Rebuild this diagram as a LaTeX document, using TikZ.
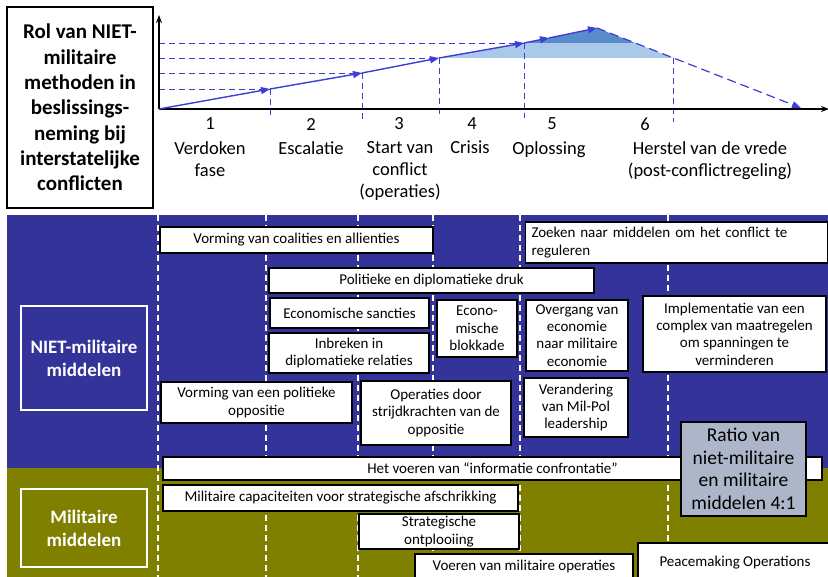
\documentclass[tikz,border=0pt]{standalone}
\usepackage{fontspec}
\setmainfont{Carlito}
\usetikzlibrary{arrows.meta}
\definecolor{panelblue}{RGB}{51,51,153}
\definecolor{panelolive}{RGB}{128,128,0}
\definecolor{lineblue}{RGB}{62,62,215}
\definecolor{shadelight}{RGB}{170,200,232}
\definecolor{shadedark}{RGB}{88,140,205}
\definecolor{ratiofill}{RGB}{172,182,200}
\tikzset{
  wbox/.style={draw=black, line width=1.2pt, fill=white, align=center, inner sep=0pt,
    font=\fontsize{15}{17.3}\selectfont},
  lbl/.style={font=\fontsize{18.5}{22}\selectfont, align=center, inner sep=0pt},
  sidebox/.style={draw=white, line width=1.2pt, align=center, text=white, inner sep=0pt,
    font=\fontsize{19}{23}\selectfont\bfseries},
  axisline/.style={line width=1.6pt, -{Stealth[length=8pt,width=6pt]}},
  bluearrow/.style={lineblue, line width=1.4pt, -{Triangle[length=9pt,width=7pt]}},
  bluedash/.style={lineblue, line width=0.9pt, dash pattern=on 6pt off 4pt},
  whitedash/.style={white, line width=1.3pt, dash pattern=on 6pt off 4pt},
}
\begin{document}
\begin{tikzpicture}[x=1pt,y=-1pt]
\useasboundingbox (0,0) rectangle (828,577);
\clip (0,0) rectangle (828,577);
\fill[white] (0,0) rectangle (828,577);

% ---------- top chart ----------
\coordinate (o) at (159,109);
\coordinate (ytop) at (159,15);
\coordinate (xend) at (829,109);
\coordinate (p1) at (270,89);
\coordinate (p2) at (362,73);
\coordinate (p3) at (439,58);
\coordinate (p4) at (524,43);
\coordinate (p5) at (549,38);
\coordinate (p6) at (597,28);
\coordinate (q1) at (635,43);
\coordinate (q2) at (673,58);
\coordinate (pend) at (801,108);

\fill[shadelight] (p3) -- (p4) -- (q1) -- (q2) -- cycle;
\fill[shadedark] (p4) -- (p6) -- (q1) -- cycle;

% horizontal dashed guides
\coordinate (h1) at (159,89);
\coordinate (h2) at (159,73);
\coordinate (h3) at (159,58);
\coordinate (h4) at (159,43);
\draw[bluedash] (h1) -- (p1);
\draw[bluedash] (h2) -- (p2);
\draw[bluedash] (h3) -- (p3);
\draw[bluedash] (h4) -- (p4);
% vertical dashed guides
\coordinate (v1) at (270,118);
\coordinate (v2) at (362,119);
\coordinate (v3) at (439,118);
\coordinate (v4) at (524,118);
\coordinate (v5) at (673,122);
\draw[bluedash] (p1) -- (v1);
\draw[bluedash] (p2) -- (v2);
\draw[bluedash] (p3) -- (v3);
\draw[bluedash] (p4) -- (v4);
\draw[bluedash] (q2) -- (v5);

\draw[axisline] (o) -- (ytop);
\draw[axisline] (o) -- (xend);

\draw[bluearrow] (o) -- (p1);
\draw[bluearrow] (p1) -- (p2);
\draw[bluearrow] (p2) -- (p3);
\draw[bluearrow] (p3) -- (p4);
\draw[bluearrow] (p4) -- (p5);
\draw[bluearrow] (p5) -- (p6);
\draw[lineblue, line width=1.2pt, dash pattern=on 9pt off 5pt, -{Triangle[length=9pt,width=7pt]}] (p6) -- (pend);

% title box
\node[draw=black, line width=1.5pt, fill=white, minimum width=146pt, minimum height=201pt,
  align=center, inner sep=0pt, font=\fontsize{21}{25.3}\selectfont\bfseries] (title) at (80,107.5)
  {Rol van NIET-\\militaire\\methoden in\\beslissings-\\neming bij\\interstatelijke\\conflicten};

% phase labels
\node[lbl] (n1) at (210,124) {1};
\node[lbl] (n2) at (311,124) {2};
\node[lbl] (n3) at (399,124) {3};
\node[lbl] (n4) at (472,124) {4};
\node[lbl] (n5) at (552,124) {5};
\node[lbl] (n6) at (645,124) {6};
\node[lbl, anchor=north] (t1) at (210,141) {Verdoken\\fase};
\node[lbl, anchor=north] (t2) at (311,141) {Escalatie};
\node[lbl, anchor=north] (t3) at (400,141) {Start van\\conflict\\(operaties)};
\node[lbl, anchor=north] (t4) at (470,141) {Crisis};
\node[lbl, anchor=north] (t5) at (549,141) {Oplossing};
\node[lbl, anchor=north] (t6) at (710,141) {Herstel van de vrede\\(post-conflictregeling)};

% ---------- bottom panel ----------
\fill[panelblue] (7,215) rectangle (830,468);
\fill[panelolive] (7,468) rectangle (830,580);

\foreach \xx [count=\i] in {158,266,358,433,520,668} {
  \coordinate (dt\i) at (\xx,215);
  \coordinate (db\i) at (\xx,580);
  \draw[whitedash] (dt\i) -- (db\i);
}

\node[sidebox, minimum width=126pt, minimum height=104pt] (niet) at (84,358) {NIET-militaire\\middelen};
\node[sidebox, minimum width=126pt, minimum height=78pt] (mil) at (84,528) {Militaire\\middelen};

\node[wbox, minimum width=273pt, minimum height=26pt] (coal) at (296.5,240) {Vorming van coalities en allienties};
\node[wbox, text width=290pt, inner xsep=6pt, minimum height=41pt, align=left] (zoek) at (676.5,242.5)
  {Zoeken naar middelen om het conflict te\\reguleren};
\node[wbox, minimum width=325pt, minimum height=25pt] (pol) at (431.5,280.5) {Politieke en diplomatieke druk};
\node[wbox, minimum width=159pt, minimum height=30pt] (eco) at (349.5,313) {Economische sancties};
\node[wbox, minimum width=160pt, minimum height=40pt] (inbr) at (349,353) {Inbreken in\\diplomatieke relaties};
\node[wbox, minimum width=80pt, minimum height=57pt] (blok) at (477,328.5) {Econo-\\mische\\blokkade};
\node[wbox, minimum width=102pt, minimum height=71pt] (overg) at (577,335.5) {Overgang van\\economie\\naar militaire\\economie};
\node[wbox, minimum width=104pt, minimum height=59pt] (verand) at (576,407.5) {Verandering\\van Mil-Pol\\leadership};
\node[wbox, minimum width=183pt, minimum height=76pt] (impl) at (734.5,334) {Implementatie van een\\complex van maatregelen\\om spanningen te\\verminderen};
\node[wbox, minimum width=191pt, minimum height=41pt] (vpol) at (256.5,402.5) {Vorming van een politieke\\oppositie};
\node[wbox, minimum width=150pt, minimum height=64pt] (oper) at (436,413) {Operaties door\\strijdkrachten van de\\oppositie};
\node[wbox, minimum width=659pt, minimum height=23pt] (info) at (492.5,468.5) {Het voeren van “informatie confrontatie”};
\node[wbox, minimum width=355pt, minimum height=26pt] (milcap) at (340.5,498) {Militaire capaciteiten voor strategische afschrikking};
\node[wbox, minimum width=160pt, minimum height=35pt] (strat) at (439,531.5) {Strategische\\ontplooiing};
\node[wbox, minimum width=218pt, minimum height=25pt] (voer) at (524,566.5) {Voeren van militaire operaties};
\node[wbox, minimum width=194pt, minimum height=40pt] (peace) at (735,563) {Peacemaking Operations};
\node[draw=black, line width=1.5pt, fill=ratiofill, minimum width=125pt, minimum height=94pt,
  align=center, inner sep=0pt, font=\fontsize{19.5}{22.5}\selectfont] (ratio) at (743.5,469)
  {Ratio van\\niet-militaire\\en militaire\\middelen 4:1};
\end{tikzpicture}
\end{document}
